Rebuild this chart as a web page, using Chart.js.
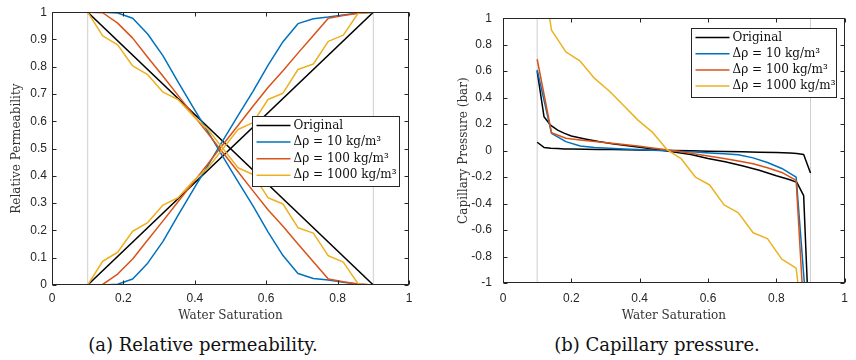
<!DOCTYPE html>
<html>
<head>
<meta charset="utf-8">
<script src="https://cdn.jsdelivr.net/npm/chart.js@4.4.0/dist/chart.umd.min.js"></script>
<style>
  body { margin: 0; background: #fff; width: 856px; height: 360px; overflow: hidden; position: relative; }
  canvas { position: absolute; top: 0; }
  #relperm { left: 0; }
  #capp { left: 428px; }
  .cap { position: absolute; top: 334px; font-family: "DejaVu Serif", serif; font-size: 18px; line-height: 21px;
         color: #111; white-space: nowrap; transform: translateX(-50%); }
</style>
</head>
<body>
<canvas id="relperm" width="428" height="330" style="width:428px;height:330px"></canvas>
<canvas id="capp" width="428" height="330" style="width:428px;height:330px"></canvas>
<div class="cap" style="left:203px">(a) Relative permeability.</div>
<div class="cap" style="left:657px">(b) Capillary pressure.</div>
<script>
// water saturation samples
const swGrid = [0.1, 0.142, 0.184, 0.226, 0.268, 0.311, 0.353, 0.395, 0.437, 0.479,
                0.521, 0.563, 0.605, 0.647, 0.689, 0.732, 0.774, 0.816, 0.858, 0.9];
const swEnds = [0.1, 0.9];
const swOrig = [0.1, 0.12, 0.14, 0.16, 0.18, 0.2, 0.24, 0.28, 0.32, 0.36, 0.4, 0.45,
                0.5, 0.55, 0.6, 0.65, 0.7, 0.75, 0.8, 0.84, 0.86, 0.88, 0.9];

// (a) relative permeability
const krwOrig = [0, 1];
const kroOrig = [1, 0];
const krw10 = [0, 0, 0.003, 0.022, 0.08, 0.16, 0.255, 0.348, 0.439, 0.53, 0.621, 0.71, 0.805, 0.892, 0.958, 0.976, 0.982, 0.99, 0.997, 1];
const kro10 = [1, 1, 0.997, 0.978, 0.92, 0.84, 0.745, 0.652, 0.561, 0.47, 0.379, 0.29, 0.195, 0.108, 0.042, 0.024, 0.018, 0.01, 0.003, 0];
const krw100 = [0, 0.002, 0.04, 0.095, 0.165, 0.235, 0.305, 0.375, 0.445, 0.515, 0.585, 0.655, 0.724, 0.785, 0.85, 0.915, 0.978, 0.988, 0.996, 1];
const kro100 = [1, 0.998, 0.96, 0.905, 0.835, 0.765, 0.695, 0.625, 0.555, 0.485, 0.415, 0.345, 0.276, 0.215, 0.15, 0.085, 0.022, 0.012, 0.004, 0];
const krw1000 = [0, 0.087, 0.12, 0.197, 0.229, 0.293, 0.32, 0.38, 0.43, 0.5, 0.57, 0.595, 0.68, 0.703, 0.79, 0.81, 0.893, 0.916, 0.997, 1];
const kro1000 = [1, 0.913, 0.88, 0.803, 0.771, 0.707, 0.68, 0.62, 0.57, 0.5, 0.43, 0.405, 0.32, 0.297, 0.21, 0.19, 0.107, 0.084, 0.003, 0];

// (b) capillary pressure, bar
const pcOrigA = [0.6, 0.256, 0.19, 0.155, 0.13, 0.11, 0.088, 0.068, 0.052, 0.038, 0.025, 0.008,
                 -0.01, -0.03, -0.06, -0.085, -0.115, -0.148, -0.19, -0.22, -0.24, -0.34, -1.6];
const pcOrigB = [0.063, 0.024, 0.018, 0.015, 0.013, 0.012, 0.01, 0.009, 0.008, 0.006, 0.004, 0.002,
                 0, -0.002, -0.004, -0.006, -0.009, -0.012, -0.015, -0.019, -0.022, -0.03, -0.17];
const pc10 = [0.61, 0.13, 0.068, 0.035, 0.024, 0.018, 0.013, 0.008, 0.003, -0.002, -0.006, -0.01, -0.018, -0.024, -0.032, -0.055, -0.09, -0.135, -0.2, -1.6];
const pc100 = [0.69, 0.135, 0.093, 0.08, 0.068, 0.058, 0.046, 0.034, 0.02, 0.007, -0.008, -0.025, -0.042, -0.06, -0.078, -0.1, -0.13, -0.165, -0.225, -2.1];
const pc1000 = [1.6, 0.91, 0.745, 0.675, 0.545, 0.45, 0.34, 0.23, 0.14, 0.01, -0.06, -0.2, -0.26, -0.41, -0.47, -0.62, -0.665, -0.82, -0.887, -1.8];

const labels = ['Original', 'Δρ = 10 kg/m³', 'Δρ = 100 kg/m³', 'Δρ = 1000 kg/m³'];
const colors = ['#000000', '#0072BD', '#D95319', '#EDB120'];
const limitSw = [0.1, 0.9];

const pts = (xs, ys) => xs.map((x, i) => ({ x: x, y: ys[i] }));

function line(label, color, xs, ys, order) {
  return { label: label, data: pts(xs, ys), borderColor: color, borderWidth: 1.5,
           pointRadius: 0, tension: 0, order: order, borderJoinStyle: 'round' };
}

function limitLines(yMin, yMax) {
  return limitSw.map(s => ({ label: '', data: pts([s, s], [yMin, yMax]), borderColor: '#cfcfcf',
                             borderWidth: 1, pointRadius: 0, order: 10 }));
}

// legend entries first, then by drawing order
const byOrder = (p, q) => (q.label ? 1 : 0) - (p.label ? 1 : 0) || q.order - p.order;

// axes box with inward ticks on all four sides
const frame = {
  id: 'frame',
  afterDatasetsDraw(chart) {
    const { ctx, chartArea: a, scales: { x, y } } = chart;
    const L = Math.round(a.left) + 0.5, R = Math.round(a.right) - 0.5;
    const T = Math.round(a.top) + 0.5, B = Math.round(a.bottom) - 0.5;
    ctx.save();
    ctx.strokeStyle = '#262626';
    ctx.lineWidth = 1;
    ctx.strokeRect(L, T, R - L, B - T);
    ctx.beginPath();
    x.ticks.forEach(t => {
      const px = Math.round(x.getPixelForValue(t.value)) + 0.5;
      ctx.moveTo(px, B); ctx.lineTo(px, B - 4);
      ctx.moveTo(px, T); ctx.lineTo(px, T + 4);
    });
    y.ticks.forEach(t => {
      const py = Math.round(y.getPixelForValue(t.value)) + 0.5;
      ctx.moveTo(L, py); ctx.lineTo(L + 4, py);
      ctx.moveTo(R, py); ctx.lineTo(R - 4, py);
    });
    ctx.stroke();
    ctx.restore();
  }
};

// MATLAB-style legend inside the axes
const boxLegend = {
  id: 'boxLegend',
  afterDraw(chart, args, o) {
    const { ctx, chartArea: a } = chart;
    const items = chart.data.datasets.filter(d => d.label);
    const w = o.width, h = o.height;
    const bx = Math.round(a.right - o.right - w) + 0.5;
    const by = Math.round(a.top + o.top) + 0.5;
    ctx.save();
    ctx.fillStyle = '#fff';
    ctx.fillRect(bx, by, w, h);
    ctx.strokeStyle = '#262626';
    ctx.lineWidth = 1;
    ctx.strokeRect(bx, by, w, h);
    ctx.font = '12px "DejaVu Serif"';
    ctx.textBaseline = 'middle';
    items.forEach((d, i) => {
      const yy = by + 9 + i * o.row;
      ctx.strokeStyle = d.borderColor;
      ctx.lineWidth = 1.5;
      ctx.beginPath();
      ctx.moveTo(bx + 4, yy); ctx.lineTo(bx + 38, yy);
      ctx.stroke();
      ctx.fillStyle = '#111';
      ctx.fillText(d.label, bx + 41, yy);
    });
    ctx.restore();
  }
};

const tickFont = { family: '"Liberation Sans", Arial, sans-serif', size: 12 };
const titleFont = { family: '"DejaVu Serif", serif', size: 12 };
const fmt = v => String(Math.round(v * 10) / 10);

function makeChart(id, datasets, yCfg, box) {
  return new Chart(document.getElementById(id), {
    type: 'line',
    data: { datasets: datasets },
    plugins: [frame, boxLegend],
    options: {
      responsive: false,
      animation: false,
      layout: { padding: box.padding },
      plugins: { legend: { display: false }, tooltip: { enabled: false }, boxLegend: box.legend },
      scales: {
        x: {
          type: 'linear', min: 0, max: 1,
          grid: { display: false, drawTicks: false }, border: { display: false },
          ticks: { stepSize: 0.2, font: tickFont, color: '#262626', padding: box.xPad, callback: fmt, maxRotation: 0 },
          title: { display: true, text: 'Water Saturation', font: titleFont, color: '#333', padding: { top: 0, bottom: 7 } },
          afterFit: s => { s.height = box.xHeight; }
        },
        y: {
          type: 'linear', min: yCfg.min, max: yCfg.max,
          grid: { display: false, drawTicks: false }, border: { display: false },
          ticks: { stepSize: yCfg.step, font: tickFont, color: '#262626', padding: box.yPad, callback: fmt },
          title: { display: true, text: yCfg.title, font: titleFont, color: '#333', padding: { top: box.yTitlePad, bottom: 0 } },
          afterFit: s => { s.width = box.yWidth; }
        }
      }
    }
  });
}

makeChart('relperm', [
  line(labels[3], colors[3], swGrid, krw1000, 1),
  line('', colors[3], swGrid, kro1000, 1),
  line(labels[2], colors[2], swGrid, krw100, 2),
  line('', colors[2], swGrid, kro100, 2),
  line(labels[1], colors[1], swGrid, krw10, 3),
  line('', colors[1], swGrid, kro10, 3),
  line(labels[0], colors[0], swEnds, krwOrig, 4),
  line('', colors[0], swEnds, kroOrig, 4),
  ...limitLines(0, 1)
].sort(byOrder),
  { min: 0, max: 1, step: 0.1, title: 'Relative Permeability' },
  { padding: { top: 7, right: 19, bottom: 0, left: 0 }, xHeight: 45, yWidth: 52, xPad: 6, yPad: 5, yTitlePad: 10,
    legend: { right: 10, top: 104, width: 147, height: 70, row: 16.6 } });

makeChart('capp', [
  line(labels[3], colors[3], swGrid, pc1000, 1),
  line(labels[2], colors[2], swGrid, pc100, 2),
  line(labels[1], colors[1], swGrid, pc10, 3),
  line(labels[0], colors[0], swOrig, pcOrigA, 4),
  line('', colors[0], swOrig, pcOrigB, 4),
  ...limitLines(-1, 1)
].sort(byOrder),
  { min: -1, max: 1, step: 0.2, title: 'Capillary Pressure (bar)' },
  { padding: { top: 9, right: 1, bottom: 0, left: 0 }, xHeight: 47, yWidth: 75, xPad: 8, yPad: 11, yTitlePad: 29,
    legend: { right: 9, top: 10, width: 145, height: 69, row: 16.2 } });
</script>
</body>
</html>
